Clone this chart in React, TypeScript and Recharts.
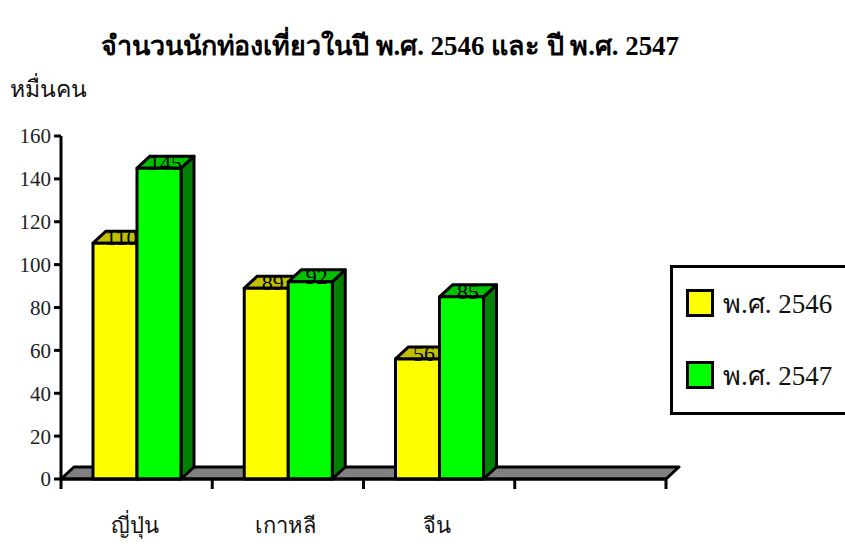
import { BarChart, Bar, XAxis, YAxis, Legend, ReferenceArea } from "recharts";

const CATEGORIES = ["ญี่ปุ่น", "เกาหลี", "จีน", ""];
const VISITORS_2546 = [110, 89, 56, null];
const VISITORS_2547 = [145, 92, 85, null];
const Y_TICKS = [0, 20, 40, 60, 80, 100, 120, 140, 160];
const SERIES_NAMES = ["พ.ศ. 2546", "พ.ศ. 2547"];

const TITLE = "จำนวนนักท่องเที่ยวในปี พ.ศ. 2546 และ ปี พ.ศ. 2547";
const UNIT = "หมื่นคน";

const data = CATEGORIES.map((name, i) => ({
  name,
  y2546: VISITORS_2546[i],
  y2547: VISITORS_2547[i],
}));

// depth of the fake 3D extrusion
const DX = 13;
const DY = 12;
const SERIF = "'Liberation Serif', 'Times New Roman', serif";

const YELLOW = { front: "#FFFF00", top: "#C0C000", side: "#A0A000" };
const GREEN = { front: "#00FF00", top: "#00C000", side: "#008000" };

function Box3D(props: any) {
  const { x, y, width, height, faces, dataKey, payload } = props;
  const value = payload ? payload[dataKey] : null;
  if (value == null || !height) return null;
  const r = x + width;
  const b = y + height;
  return (
    <g stroke="#000" strokeWidth={3} strokeLinejoin="round">
      <polygon points={`${r},${y} ${r + DX},${y - DY} ${r + DX},${b - DY} ${r},${b}`} fill={faces.side} />
      <polygon points={`${x},${y} ${r},${y} ${r + DX},${y - DY} ${x + DX},${y - DY}`} fill={faces.top} />
      <rect x={x} y={y} width={width} height={height} fill={faces.front} />
      <text
        x={x + width / 2 + DX / 2}
        y={y + 2}
        textAnchor="middle"
        stroke="none"
        fill="#000"
        fontSize={22}
        fontFamily={SERIF}
      >
        {value}
      </text>
    </g>
  );
}

function Floor(props: any) {
  const { x, y, width, height } = props;
  const b = y + height;
  return (
    <polygon
      points={`${x},${b} ${x + width},${b} ${x + width + DX},${b - DY} ${x + DX},${b - DY}`}
      fill="#808080"
      stroke="#000"
      strokeWidth={3}
      strokeLinejoin="round"
    />
  );
}

function CategoryTick(props: any) {
  const { x, y, payload, index } = props;
  const half = payload && payload.offset ? payload.offset : 75.5;
  const last = index === CATEGORIES.length - 1;
  return (
    <g>
      <line x1={x - half} x2={x - half} y1={y} y2={y + 10} stroke="#000" strokeWidth={3} />
      {last && <line x1={x + half} x2={x + half} y1={y} y2={y + 10} stroke="#000" strokeWidth={3} />}
      <text x={x - 2} y={y + 54} textAnchor="middle" fontSize={22} fontFamily={SERIF} fill="#111">
        {payload.value}
      </text>
    </g>
  );
}

function LegendBox(props: any) {
  const items = props.payload || [];
  return (
    <div
      style={{
        border: "3px solid #000",
        width: 200,
        height: 150,
        boxSizing: "border-box",
        background: "#fff",
        paddingTop: 17,
        paddingLeft: 13,
      }}
    >
      {items.map((it: any, i: number) => (
        <div key={i} style={{ display: "flex", alignItems: "center", height: 36, marginBottom: i === 0 ? 36 : 0 }}>
          <div
            style={{
              width: 22,
              height: 22,
              border: "3px solid #000",
              background: it.color,
              marginRight: 9,
            }}
          />
          <span style={{ fontFamily: SERIF, fontSize: 27, color: "#111" }}>{it.value}</span>
        </div>
      ))}
    </div>
  );
}

export default function App() {
  return (
    <div style={{ position: "absolute", left: 0, top: 0, width: 845, height: 544, overflow: "hidden", background: "#fff" }}>
      <svg width={845} height={120} style={{ position: "absolute", left: 0, top: 0 }}>
        <text
          x={390}
          y={55}
          textAnchor="middle"
          fontSize={27}
          fontWeight="bold"
          fontFamily={SERIF}
          fill="#000"
          textLength={578}
          lengthAdjust="spacingAndGlyphs"
        >
          {TITLE}
        </text>
        <text x={10} y={97} fontSize={23} fontFamily={SERIF} fill="#111">
          {UNIT}
        </text>
      </svg>
      <div style={{ position: "absolute", left: 0, top: 0 }}>
        <BarChart
          width={845}
          height={544}
          data={data}
          margin={{ top: 136, right: 179, left: 0, bottom: 0 }}
          barGap={0}
        >
          <ReferenceArea shape={<Floor />} ifOverflow="visible" />
          <XAxis
            dataKey="name"
            height={65}
            axisLine={{ stroke: "#000", strokeWidth: 3 }}
            tickLine={false}
            tickSize={0}
            tickMargin={0}
            interval={0}
            tick={<CategoryTick />}
          />
          <YAxis
            width={61}
            domain={[0, 160]}
            ticks={Y_TICKS}
            interval={0}
            axisLine={{ stroke: "#000", strokeWidth: 3 }}
            tickLine={{ stroke: "#000", strokeWidth: 3 }}
            tickSize={7}
            tickMargin={3}
            tick={{ fill: "#222", fontSize: 21, fontFamily: SERIF }}
          />
          <Legend
            align="center"
            verticalAlign="middle"
            content={<LegendBox />}
            wrapperStyle={{ left: 670, top: 265, width: 200, height: 150 }}
          />
          <Bar
            dataKey="y2546"
            name={SERIES_NAMES[0]}
            fill={YELLOW.front}
            barSize={44}
            isAnimationActive={false}
            shape={(p: any) => <Box3D {...p} faces={YELLOW} dataKey="y2546" />}
          />
          <Bar
            dataKey="y2547"
            name={SERIES_NAMES[1]}
            fill={GREEN.front}
            barSize={44}
            isAnimationActive={false}
            shape={(p: any) => <Box3D {...p} faces={GREEN} dataKey="y2547" />}
          />
        </BarChart>
      </div>
    </div>
  );
}
